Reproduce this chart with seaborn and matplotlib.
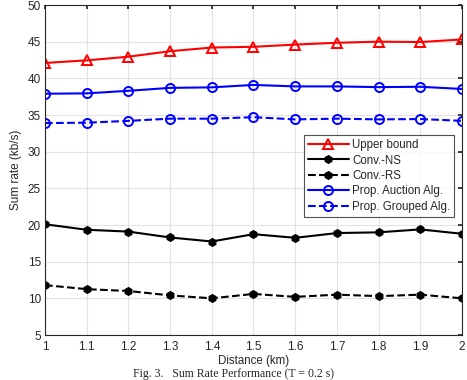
import matplotlib
matplotlib.use("Agg")
import matplotlib.pyplot as plt
import seaborn as sns
import pandas as pd

distance = [1.0, 1.1, 1.2, 1.3, 1.4, 1.5, 1.6, 1.7, 1.8, 1.9, 2.0]
upper_bound = [42.1, 42.45, 42.95, 43.7, 44.2, 44.3, 44.6, 44.85, 45.0, 44.95, 45.3]
conv_ns = [20.1, 19.35, 19.1, 18.3, 17.75, 18.75, 18.25, 18.9, 19.0, 19.4, 18.8]
conv_rs = [11.8, 11.25, 11.0, 10.4, 10.0, 10.6, 10.2, 10.5, 10.3, 10.5, 10.0]
prop_auction = [37.9, 37.95, 38.3, 38.7, 38.77, 39.1, 38.9, 38.9, 38.8, 38.85, 38.55]
prop_grouped = [33.9, 33.95, 34.2, 34.5, 34.5, 34.7, 34.4, 34.5, 34.4, 34.45, 34.2]
x_ticks = [1, 1.1, 1.2, 1.3, 1.4, 1.5, 1.6, 1.7, 1.8, 1.9, 2]
x_ticklabels = ["1", "1.1", "1.2", "1.3", "1.4", "1.5", "1.6", "1.7", "1.8", "1.9", "2"]
y_ticks = [5, 10, 15, 20, 25, 30, 35, 40, 45, 50]

series = [
    ("Upper bound", upper_bound, "red", "-", "^", "none", 7),
    ("Conv.-NS", conv_ns, "black", "-", "h", "black", 5),
    ("Conv.-RS", conv_rs, "black", "--", "h", "black", 5),
    ("Prop. Auction Alg.", prop_auction, "blue", "-", "o", "none", 6.5),
    ("Prop. Grouped Alg.", prop_grouped, "blue", "--", "o", "none", 6.5),
]

sns.set_theme(style="whitegrid")
plt.rcParams["font.family"] = ["Liberation Sans", "DejaVu Sans"]

fig = plt.figure(figsize=(4.67, 3.8), dpi=100)
ax = fig.add_axes([45/467, 45/380, 417/467, 330/380])

for name, vals, color, ls, mk, mfc, ms in series:
    df = pd.DataFrame({"Distance": distance, "Rate": vals})
    sns.lineplot(data=df, x="Distance", y="Rate", ax=ax, color=color,
                 linestyle=ls, marker=mk, markersize=ms,
                 markerfacecolor=mfc, markeredgecolor=color, markeredgewidth=1.4,
                 linewidth=1.5, label=name, dashes=False if ls == "-" else (4, 4))

ax.set_xlim(1, 2)
ax.set_ylim(5, 50)
ax.set_xticks(x_ticks)
ax.set_xticklabels(x_ticklabels)
ax.set_yticks(y_ticks)
ax.set_xlabel("Distance (km)", fontsize=8.3, color="#262626", labelpad=1)
ax.set_ylabel("Sum rate (kb/s)", fontsize=8.5, color="#262626", labelpad=4)
ax.tick_params(axis="both", labelsize=8.5, colors="#262626", direction="in",
               length=3, top=True, right=True, pad=3)
ax.tick_params(axis="x", pad=4.5)
ax.grid(True, color="#e3e3e3", linewidth=0.8)
for sp in ax.spines.values():
    sp.set_color("#262626")
    sp.set_linewidth(0.8)

leg = ax.legend(loc="upper right", bbox_to_anchor=(0.981, 0.606), fontsize=8.3,
                frameon=True, fancybox=False, edgecolor="#262626",
                borderpad=0.35, labelspacing=0.3, handlelength=3.6,
                handletextpad=0.25, borderaxespad=0)
leg.get_frame().set_linewidth(0.8)

fig.text(0.5, 0.0, "Fig. 3.   Sum Rate Performance (T = 0.2 s)",
         ha="center", va="bottom", fontsize=8.5, family=["Liberation Serif", "DejaVu Serif"])

fig.savefig("out.png", dpi=100)
